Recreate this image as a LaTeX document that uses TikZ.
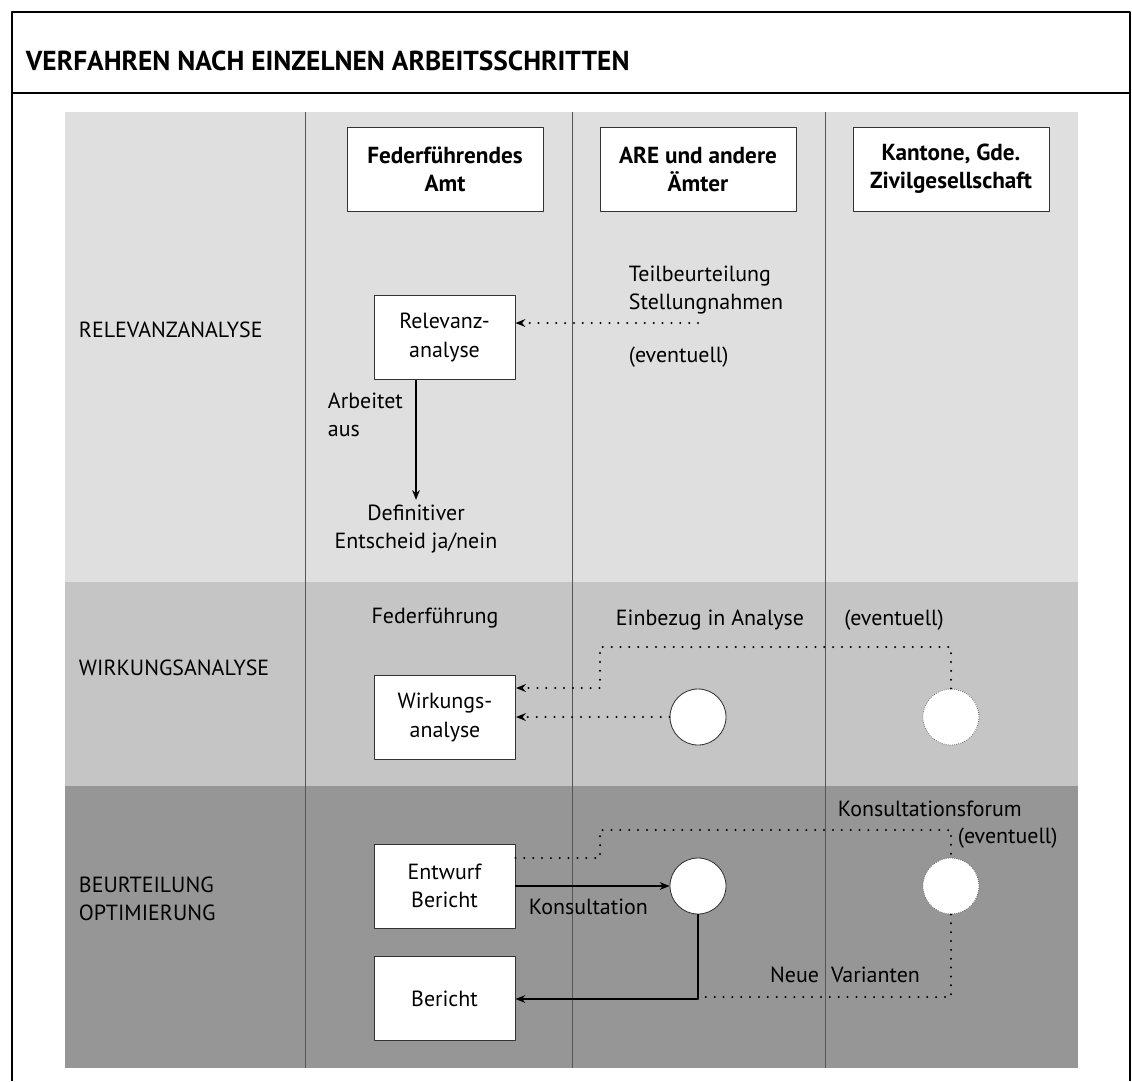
\documentclass[tikz,border=0pt]{standalone}
\usepackage{fontspec}
\setmainfont{PT Sans}
\usetikzlibrary{arrows.meta,positioning}
\definecolor{bandA}{HTML}{DFDFDF}
\definecolor{bandB}{HTML}{C5C5C5}
\definecolor{bandC}{HTML}{969696}
\definecolor{rule}{HTML}{555555}
\newcommand\txtsize{\fontsize{15.6}{20}\selectfont}
\begin{document}
\begin{tikzpicture}[x=0.025cm, y=-0.025cm, >={Stealth[length=7pt,width=5.5pt]}, line join=round, font=\txtsize,
    proc/.style={draw=black!80, line width=0.6pt, fill=white, minimum width=3.525cm, minimum height=2.1cm, align=center},
    head/.style={proc, minimum width=4.9cm, font=\bfseries\fontsize{16.5}{20}\selectfont},
    spot/.style={circle, draw=black!80, line width=0.6pt, fill=white, minimum size=1.4cm, inner sep=0pt},
    vague/.style={draw=black!60, dash pattern=on 0.5pt off 1pt},
    link/.style={line width=1.6pt, dash pattern=on 0pt off 6.3pt, line cap=round},
    flow/.style={line width=1pt}]
  \useasboundingbox (0,0) rectangle (1132,1081);
  % bands and columns
  \fill[bandA] (65,112) rectangle (1078,582);
  \fill[bandB] (65,582) rectangle (1078,786);
  \fill[bandC] (65,786) rectangle (1078,1068);
  \foreach \x in {305,572,825} \draw[rule, line width=0.6pt] (\x,112)--(\x,1068);
  % frame
  \draw[line width=1.6pt] (12,1081)--(12,12)--(1130,12)--(1130,1081);
  \draw[line width=1.6pt] (12,93)--(1130,93);
  \node[anchor=west, font=\bfseries\fontsize{19.5}{22}\selectfont] (title) at (21,61) {VERFAHREN NACH EINZELNEN ARBEITSSCHRITTEN};
  % heads
  \node[head] (fed) at (445,169) {Federführendes\\Amt};
  \node[head] (are) at (698,169) {ARE und andere\\Ämter};
  \node[head] (kan) at (951,169) {Kantone, Gde.\\Zivilgesellschaft};
  % row labels
  \node[anchor=west] (lrel) at (74,330) {RELEVANZANALYSE};
  \node[anchor=west] (lwirk) at (74,668) {WIRKUNGSANALYSE};
  \node[anchor=west, align=left] (lbeur) at (74,899) {BEURTEILUNG\\OPTIMIERUNG};
  % Relevanzanalyse
  \node[proc] (rel) at (444.5,337.5) {Relevanz-\\analyse};
  \node[anchor=west, align=left] (teil) at (624,290) {Teilbeurteilung\\Stellungnahmen};
  \node[anchor=west] (ev1) at (624,357) {(eventuell)};
  \coordinate (teilend) at (698,323);
  \draw[link,->] (teilend) -- (rel.east |- teilend);
  \node[anchor=west, align=left] (arb) at (323,415) {Arbeitet\\aus};
  \node[align=center] (def) at (416,529) {Definitiver\\Entscheid ja/nein};
  \draw[flow,->] (rel.south -| def.north) -- (def.north);
  % Wirkungsanalyse
  \node (fedf) at (435,618) {Federführung};
  \node (einb) at (710,620) {Einbezug in Analyse};
  \node (ev2) at (894,620) {(eventuell)};
  \node[proc] (wirk) at (445,717.5) {Wirkungs-\\analyse};
  \node[spot] (c1) at (698,717) {};
  \node[spot, vague] (c2) at (951,717) {};
  \draw[link,->] (c1) -- (wirk.east |- c1);
  \draw[link,->] (c2.north) -- (951,647) -- (600,647) -- (600,688) -- (wirk.east |- 0,688);
  % Beurteilung / Optimierung
  \node[proc] (entw) at (444.5,886) {Entwurf\\Bericht};
  \node[proc] (ber) at (444.5,998.5) {Bericht};
  \node[spot] (c3) at (698,886) {};
  \node[spot, vague] (c4) at (951,886) {};
  \draw[flow,->] (entw.east) -- (c3);
  \node[anchor=west] (kons) at (524,907) {Konsultation};
  \draw[link] (entw.east |- 0,858) -- (600,858) -- (600,830) -- (951,830) -- (c4.north);
  \node[anchor=west] (kforum) at (833,809) {Konsultationsforum};
  \node[anchor=west] (ev3) at (953,838) {(eventuell)};
  \draw[flow,->] (c3.south) -- (698,999) -- (ber.east |- 0,999);
  \draw[link] (c4.south) -- (951,997) -- (700,997);
  \node (neue) at (845,975) {Neue\hspace{0.55em}Varianten};
\end{tikzpicture}
\end{document}
